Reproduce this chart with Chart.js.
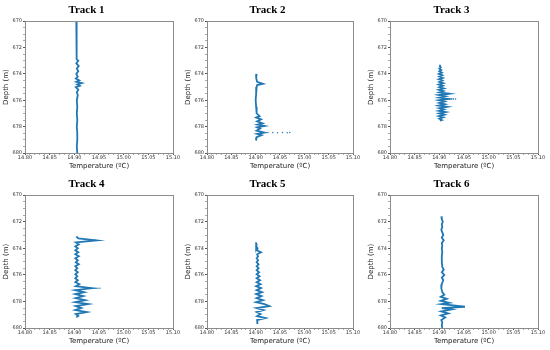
<!DOCTYPE html>
<html>
<head>
<meta charset="utf-8">
<script src="https://cdn.jsdelivr.net/npm/chart.js@4.4.0/dist/chart.umd.min.js"></script>
<style>
  body { margin: 0; background: #fff; }
  #wrap { position: relative; width: 550px; height: 350px; overflow: hidden; }
  #wrap canvas { position: absolute; }
</style>
</head>
<body>
<div id="wrap"></div>
<script>
// ---- data ----
const trackTitles = ["Track 1", "Track 2", "Track 3", "Track 4", "Track 5", "Track 6"];
const xTickLabels = [14.80, 14.85, 14.90, 14.95, 15.00, 15.05, 15.10];
const yTickLabels = [670, 672, 674, 676, 678, 680];

const depth1 = [670, 671, 672, 672.9, 673.0, 673.2, 673.4, 673.6, 673.8, 674.0, 674.2, 674.35, 674.5, 674.6, 674.7, 674.8, 674.9, 675.0, 675.2, 675.4, 675.6, 676.0, 676.5, 677.0, 677.5, 678.0, 678.5, 679.0, 679.5, 680];
const temp1 = [14.904, 14.904, 14.905, 14.905, 14.908, 14.904, 14.909, 14.905, 14.908, 14.904, 14.907, 14.903, 14.910, 14.904, 14.915, 14.906, 14.911, 14.903, 14.908, 14.905, 14.907, 14.905, 14.906, 14.905, 14.906, 14.905, 14.906, 14.906, 14.905, 14.906];

const depth2 = [674.0, 674.3, 674.6, 674.75, 674.85, 675.0, 675.5, 676.0, 676.5, 677.0, 677.2, 677.3, 677.45, 677.6, 677.75, 677.85, 677.95, 678.05, 678.15, 678.3, 678.45, 678.55, 678.65, 678.8, 679.0, 679.05];
const temp2 = [14.902, 14.901, 14.903, 14.915, 14.903, 14.902, 14.901, 14.900, 14.901, 14.902, 14.908, 14.901, 14.911, 14.903, 14.914, 14.904, 14.918, 14.903, 14.909, 14.902, 14.918, 14.903, 14.912, 14.902, 14.901, 14.900];
const dotDepth2 = [678.45, 678.45, 678.46, 678.45, 678.46, 678.45];
const dotTemp2 = [14.925, 14.935, 14.945, 14.955, 14.965, 14.970];

const depth3 = [673.3, 673.4, 673.5, 673.6, 673.7, 673.8, 673.9, 674.0, 674.1, 674.2, 674.3, 674.4, 674.5, 674.6, 674.7, 674.8, 674.9, 675.0, 675.1, 675.2, 675.3, 675.4, 675.5, 675.6, 675.7, 675.8, 675.9, 676.0, 676.1, 676.2, 676.3, 676.4, 676.5, 676.6, 676.7, 676.8, 676.9, 677.0, 677.1, 677.2, 677.3, 677.4, 677.5, 677.55];
const temp3 = [14.902, 14.901, 14.903, 14.900, 14.904, 14.900, 14.905, 14.899, 14.906, 14.900, 14.907, 14.899, 14.906, 14.900, 14.908, 14.899, 14.907, 14.900, 14.909, 14.899, 14.908, 14.900, 14.920, 14.899, 14.912, 14.900, 14.918, 14.899, 14.910, 14.900, 14.911, 14.899, 14.916, 14.900, 14.909, 14.899, 14.913, 14.900, 14.910, 14.899, 14.908, 14.900, 14.905, 14.901];
const dotDepth3 = [675.9, 675.9, 675.9, 675.9];
const dotTemp3 = [14.921, 14.925, 14.929, 14.933];

const depth4 = [673.1, 673.25, 673.4, 673.55, 673.7, 673.85, 674.0, 674.15, 674.3, 674.45, 674.6, 674.75, 674.9, 675.05, 675.2, 675.35, 675.5, 675.65, 675.8, 675.95, 676.1, 676.25, 676.4, 676.55, 676.7, 676.85, 677.0, 677.15, 677.3, 677.45, 677.6, 677.75, 677.9, 678.05, 678.2, 678.35, 678.5, 678.65, 678.8, 678.95, 679.1, 679.2];
const temp4 = [14.904, 14.908, 14.945, 14.903, 14.909, 14.902, 14.907, 14.902, 14.908, 14.902, 14.909, 14.902, 14.907, 14.903, 14.909, 14.902, 14.906, 14.902, 14.907, 14.902, 14.906, 14.902, 14.907, 14.902, 14.910, 14.903, 14.935, 14.902, 14.920, 14.902, 14.918, 14.903, 14.922, 14.902, 14.928, 14.903, 14.914, 14.902, 14.925, 14.903, 14.908, 14.904];
const dotDepth4 = [677.0, 677.0, 677.0, 677.0];
const dotTemp4 = [14.940, 14.944, 14.948, 14.952];

const depth5 = [673.55, 673.7, 673.85, 674.0, 674.15, 674.3, 674.45, 674.6, 674.75, 674.9, 675.05, 675.2, 675.35, 675.5, 675.65, 675.8, 675.95, 676.1, 676.25, 676.4, 676.55, 676.7, 676.85, 677.0, 677.15, 677.3, 677.45, 677.6, 677.75, 677.9, 678.05, 678.2, 678.35, 678.5, 678.65, 678.8, 678.95, 679.1, 679.25, 679.4, 679.55, 679.7];
const temp5 = [14.900, 14.902, 14.901, 14.904, 14.902, 14.911, 14.903, 14.905, 14.902, 14.905, 14.902, 14.906, 14.902, 14.906, 14.902, 14.907, 14.902, 14.908, 14.902, 14.909, 14.902, 14.910, 14.901, 14.911, 14.902, 14.913, 14.901, 14.912, 14.902, 14.915, 14.901, 14.918, 14.928, 14.902, 14.916, 14.902, 14.910, 14.903, 14.920, 14.903, 14.904, 14.903];

const depth6 = [671.6, 671.8, 672.0, 672.2, 672.4, 672.6, 672.8, 673.0, 673.2, 673.4, 673.6, 673.8, 674.0, 674.3, 674.6, 675.0, 675.4, 675.6, 675.8, 676.0, 676.2, 676.4, 676.7, 677.0, 677.3, 677.5, 677.65, 677.8, 677.95, 678.1, 678.2, 678.3, 678.4, 678.5, 678.6, 678.75, 678.9, 679.05, 679.2, 679.4, 679.6, 679.8, 680.0];
const temp6 = [14.904, 14.905, 14.907, 14.905, 14.906, 14.904, 14.906, 14.908, 14.905, 14.909, 14.905, 14.906, 14.905, 14.906, 14.905, 14.905, 14.906, 14.909, 14.905, 14.910, 14.905, 14.908, 14.905, 14.904, 14.906, 14.910, 14.903, 14.915, 14.903, 14.920, 14.904, 14.928, 14.952, 14.905, 14.925, 14.904, 14.918, 14.903, 14.912, 14.904, 14.906, 14.905, 14.906];

const tracks = [
  { depth: depth1, temp: temp1, dotDepth: [], dotTemp: [] },
  { depth: depth2, temp: temp2, dotDepth: dotDepth2, dotTemp: dotTemp2 },
  { depth: depth3, temp: temp3, dotDepth: dotDepth3, dotTemp: dotTemp3 },
  { depth: depth4, temp: temp4, dotDepth: dotDepth4, dotTemp: dotTemp4 },
  { depth: depth5, temp: temp5, dotDepth: [], dotTemp: [] },
  { depth: depth6, temp: temp6, dotDepth: [], dotTemp: [] },
];

// panel boxes (canvas position and size)
const colLeft = [0, 182, 365];
const colWidth = [183, 181, 183];
const rowTop = [0, 174];
const rowHeight = [175, 176];

const lineColor = "#1f77b4";
const tickFont = { family: "'DejaVu Sans', sans-serif", size: 5 };
const labelFont = { family: "'DejaVu Sans', sans-serif", size: 7 };

// frame round the plot area, like matplotlib spines
const framePlugin = {
  id: "frame",
  afterDraw(chart) {
    const { ctx, chartArea: a } = chart;
    ctx.save();
    ctx.strokeStyle = "#8c8c8c";
    ctx.lineWidth = 1;
    ctx.strokeRect(Math.round(a.left) + 0.5, Math.round(a.top) + 0.5, Math.round(a.right - a.left), Math.round(a.bottom - a.top));
    ctx.restore();
  },
};

const isMajor = (list, v) => list.find((t) => Math.abs(t - v) < 1e-6);

const wrap = document.getElementById("wrap");

tracks.forEach((tr, i) => {
  const col = i % 3;
  const row = Math.floor(i / 3);
  const canvas = document.createElement("canvas");
  canvas.width = colWidth[col];
  canvas.height = rowHeight[row];
  canvas.style.left = colLeft[col] + "px";
  canvas.style.top = rowTop[row] + "px";
  canvas.style.width = colWidth[col] + "px";
  canvas.style.height = rowHeight[row] + "px";
  wrap.appendChild(canvas);

  const linePts = tr.depth.map((d, k) => ({ x: tr.temp[k], y: d }));
  const dotPts = tr.dotDepth.map((d, k) => ({ x: tr.dotTemp[k], y: d }));

  new Chart(canvas.getContext("2d"), {
    type: "scatter",
    data: {
      datasets: [
        {
          data: linePts,
          showLine: true,
          borderColor: lineColor,
          borderWidth: 1.8,
          pointRadius: 0,
          tension: 0,
        },
        {
          data: dotPts,
          showLine: false,
          pointRadius: 0.7,
          pointBackgroundColor: lineColor,
          pointBorderWidth: 0,
        },
      ],
    },
    plugins: [framePlugin],
    options: {
      responsive: false,
      animation: false,
      devicePixelRatio: 1,
      layout: { padding: { left: 0, right: 10, top: 0, bottom: 5 } },
      plugins: {
        legend: { display: false },
        tooltip: { enabled: false },
        title: {
          display: true,
          text: trackTitles[i],
          color: "#000",
          font: { family: "'Liberation Serif', 'Times New Roman', serif", size: 11, weight: "bold" },
          padding: { top: 4, bottom: 4 },
        },
      },
      scales: {
        x: {
          type: "linear",
          min: 14.8,
          max: 15.1,
          afterFit: (scale) => { scale.height = 17; },
          ticks: {
            stepSize: 0.01,
            autoSkip: false,
            maxRotation: 0,
            minRotation: 0,
            padding: 0,
            color: "#333",
            font: tickFont,
            callback: (v) => {
              const hit = isMajor(xTickLabels, v);
              return hit !== undefined ? hit.toFixed(2) : "";
            },
          },
          grid: {
            drawOnChartArea: false,
            tickLength: 2,
            tickColor: (ctx) => (ctx.tick && ctx.tick.label ? "#555" : "#aaa"),
          },
          border: { display: false },
          title: { display: true, text: "Temperature (ºC)", color: "#222", font: labelFont, padding: 0 },
        },
        y: {
          type: "linear",
          reverse: true,
          min: 670,
          max: 680,
          afterFit: (scale) => { scale.width = 25; },
          ticks: {
            stepSize: 0.5,
            autoSkip: false,
            padding: 1,
            color: "#333",
            font: tickFont,
            callback: (v) => {
              const hit = isMajor(yTickLabels, v);
              return hit !== undefined ? String(hit) : "";
            },
          },
          grid: {
            drawOnChartArea: false,
            tickLength: 2,
            tickColor: (ctx) => (ctx.tick && ctx.tick.label ? "#555" : "#aaa"),
          },
          border: { display: false },
          title: { display: true, text: "Depth (m)", color: "#222", font: labelFont, padding: { top: 2, bottom: 0 } },
        },
      },
    },
  });
});
</script>
</body>
</html>
